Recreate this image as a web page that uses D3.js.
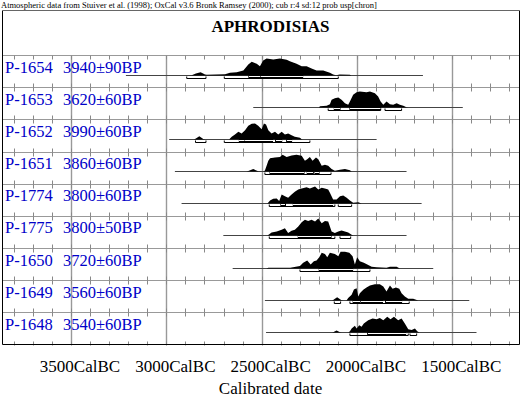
<!DOCTYPE html>
<html>
<head>
<meta charset="utf-8">
<script src="https://cdn.jsdelivr.net/npm/d3@7"></script>
<style>
  body { margin: 0; background: #fff; }
  svg { display: block; }
  svg text { font-family: "Liberation Serif", "Times New Roman", Times, "DejaVu Serif", serif; }
</style>
</head>
<body>
<div id="wrapper"></div>
<script>
// ---- data ----
const header = "Atmospheric data from Stuiver et al. (1998); OxCal v3.6 Bronk Ramsey (2000); cub r:4 sd:12 prob usp[chron]";
const title = "APHRODISIAS";
const labCodes = ["P-1654", "P-1653", "P-1652", "P-1651", "P-1774", "P-1775", "P-1650", "P-1649", "P-1648"];
const bpDates = ["3940±90BP", "3620±60BP", "3990±60BP", "3860±60BP", "3800±60BP", "3800±50BP", "3720±60BP", "3560±60BP", "3540±60BP"];

// extent of the calibration line under each distribution (cal BC)
const spans = [[3212, 1654], [2544, 1445], [2985, 1897], [2955, 1740], [2920, 1661],
               [2701, 1740], [2652, 1600], [2483, 1411], [2477, 1373]];

// relative probability [cal BC, p]
const dists = [
  [[2900,0],[2867,0.02],[2845,0.12],[2820,0.19],[2797,0.06],[2788,0.05],[2740,0.06],[2692,0.08],[2666,0.16],[2631,0.19],[2596,0.29],[2570,0.65],[2552,0.81],[2526,0.69],[2509,0.55],[2492,0.88],[2474,1],[2439,0.94],[2404,1],[2369,0.92],[2352,0.84],[2317,0.69],[2290,0.55],[2264,0.55],[2238,0.41],[2212,0.29],[2177,0.29],[2142,0.16],[2125,0.06],[2110,0.02],[2090,0.06],[2037,0.05],[2030,0]],
  [[2200,0],[2194,0.08],[2159,0.1],[2142,0.19],[2133,0.45],[2116,0.55],[2098,0.59],[2081,0.45],[2063,0.25],[2046,0.16],[2037,0.35],[2020,0.75],[2002,0.9],[1985,0.94],[1950,0.9],[1932,0.94],[1906,0.84],[1889,0.65],[1876,0.35],[1862,0.16],[1845,0.35],[1827,0.19],[1810,0.16],[1792,0.25],[1775,0.16],[1757,0.1],[1740,0.02],[1730,0]],
  [[2855,0],[2845,0.06],[2827,0.19],[2806,0.03],[2795,0],[2670,0],[2666,0.06],[2657,0.16],[2640,0.29],[2622,0.45],[2605,0.35],[2587,0.55],[2570,0.81],[2552,0.92],[2535,0.94],[2518,0.81],[2500,0.61],[2488,0.94],[2477,0.88],[2465,0.55],[2448,0.35],[2430,0.45],[2413,0.29],[2395,0.45],[2378,0.29],[2361,0.35],[2343,0.25],[2326,0.16],[2299,0.1],[2290,0.02],[2285,0]],
  [[2580,0],[2570,0.03],[2544,0.14],[2518,0.02],[2500,0],[2490,0],[2483,0.06],[2474,0.34],[2465,0.63],[2456,0.78],[2430,0.82],[2404,0.86],[2390,0.98],[2369,0.86],[2343,0.94],[2317,0.98],[2290,0.92],[2273,0.63],[2261,0.72],[2247,0.86],[2233,0.63],[2215,0.82],[2203,0.72],[2185,0.34],[2168,0.39],[2151,0.34],[2133,0.14],[2116,0.04],[2089,0.1],[2063,0.14],[2037,0.08],[2028,0]],
  [[2470,0],[2465,0.06],[2456,0.18],[2439,0.28],[2421,0.29],[2408,0.14],[2395,0.53],[2378,0.43],[2361,0.34],[2343,0.53],[2326,0.69],[2308,0.82],[2290,0.88],[2264,0.96],[2247,0.88],[2220,1],[2203,0.82],[2185,0.92],[2168,0.88],[2151,0.82],[2142,0.63],[2125,0.24],[2107,0.24],[2089,0.43],[2072,0.47],[2054,0.34],[2037,0.18],[2020,0.04],[1993,0.08],[1976,0]],
  [[2470,0],[2460,0.08],[2448,0.18],[2421,0.24],[2395,0.34],[2378,0.43],[2361,0.14],[2343,0.28],[2326,0.34],[2308,0.53],[2290,0.78],[2273,0.92],[2256,0.86],[2238,0.92],[2220,0.82],[2203,1],[2185,0.72],[2168,0.86],[2151,0.82],[2133,0.24],[2116,0.14],[2098,0.24],[2081,0.29],[2063,0.24],[2046,0.18],[2028,0.04],[2020,0]],
  [[2475,0],[2465,0.04],[2350,0.04],[2299,0.14],[2282,0.34],[2261,0.47],[2243,0.24],[2226,0.43],[2212,0.47],[2198,0.66],[2185,0.92],[2168,0.86],[2156,0.66],[2142,0.92],[2116,0.86],[2098,0.72],[2086,0.98],[2063,0.98],[2040,0.92],[2023,0.72],[2011,0.24],[1999,0.66],[1985,0.43],[1964,0.34],[1946,0.24],[1923,0.1],[1897,0.08],[1845,0.04],[1827,0.1],[1792,0.1],[1775,0]],
  [[2130,0],[2125,0.03],[2104,0.19],[2081,0.02],[2070,0],[2055,0],[2046,0.14],[2028,0.34],[2016,0.65],[2002,0.72],[1993,0.24],[1985,0.43],[1967,0.63],[1950,0.76],[1932,0.88],[1906,0.96],[1880,0.96],[1862,0.82],[1845,0.53],[1827,0.88],[1813,0.69],[1796,0.76],[1778,0.69],[1766,0.43],[1749,0.24],[1731,0.1],[1705,0.1],[1679,0]],
  [[2130,0],[2125,0.02],[2107,0.12],[2089,0.02],[2080,0],[2045,0],[2037,0.08],[2028,0.24],[2011,0.39],[2002,0.24],[1988,0.43],[1976,0.34],[1964,0.53],[1941,0.72],[1918,0.82],[1897,0.78],[1880,0.86],[1862,0.72],[1841,0.92],[1824,0.78],[1806,0.92],[1784,0.72],[1766,0.82],[1749,0.53],[1731,0.19],[1713,0.14],[1696,0.24],[1684,0.08],[1673,0]]
];

// 68.2% and 95.4% ranges (cal BC)
const sigma1 = [
  [[2567,2504],[2504,2285]],
  [[2119,2089],[2037,1876]],
  [[2617,2587],[2587,2443],[2427,2395],[2369,2343]],
  [[2456,2278],[2261,2229],[2220,2199]],
  [[2399,2375],[2334,2128]],
  [[2308,2136]],
  [[2198,2023]],
  [[2020,1985],[1979,1866],[1850,1766]],
  [[1944,1745]]
];
const sigma2 = [
  [[2893,2792],[2696,2098]],
  [[2151,1876],[1853,1766]],
  [[2847,2792],[2696,2247]],
  [[2483,2136]],
  [[2460,2116],[2098,2028]],
  [[2460,2116],[2089,2033]],
  [[2299,1932]],
  [[2119,2086],[2037,1726]],
  [[2037,1731],[1722,1687]]
];

const majorTicks = [3500, 3000, 2500, 2000, 1500];
const minorTicks = [3800,3700,3600,3500,3400,3300,3200,3100,3000,2900,2800,2700,2600,2500,
                    2400,2300,2200,2100,2000,1900,1800,1700,1600,1500,1400,1300,1200];
const xTitle = "Calibrated date";

// ---- layout ----
const width = 522, height = 397;
const frame = { left: 2.5, right: 519.5, top: 10.5, plotTop: 55, bottom: 344.5 };
const serif = "\"Liberation Serif\", \"Times New Roman\", Times, \"DejaVu Serif\", serif";

const x = d3.scaleLinear().domain([3500, 1500]).range([71, 452.3]);
const row = d3.scaleBand().domain(labCodes).range([frame.plotTop, frame.bottom]);
const prob = d3.scaleLinear().domain([0, 1]).range([0, 17]);
const px = v => Math.round(v) + 0.5;

const svg = d3.select("#wrapper")
    .append("svg")
    .attr("width", width)
    .attr("height", height)
    .attr("font-family", serif);

svg.append("text")
    .attr("x", 1)
    .attr("y", 7.5)
    .attr("font-size", 8.5)
    .text(header);

svg.append("text")
    .attr("x", 270.5)
    .attr("y", 32)
    .attr("text-anchor", "middle")
    .attr("font-size", 17)
    .attr("font-weight", "bold")
    .text(title);

// row separators
svg.append("g")
    .selectAll("line")
    .data(labCodes)
    .join("line")
    .attr("x1", frame.left).attr("x2", frame.right)
    .attr("y1", d => px(row(d))).attr("y2", d => px(row(d)))
    .attr("stroke", "#999");

// major grid
svg.append("g")
    .selectAll("line")
    .data(majorTicks)
    .join("line")
    .attr("x1", d => px(x(d))).attr("x2", d => px(x(d)))
    .attr("y1", frame.plotTop).attr("y2", frame.bottom)
    .attr("stroke", "#999")
    .attr("stroke-width", 1.4);

// minor ticks at top and bottom of every row
const tickRows = svg.append("g")
    .selectAll("g")
    .data(labCodes)
    .join("g");
tickRows.selectAll("line.top")
    .data(minorTicks)
    .join("line")
    .attr("class", "top")
    .attr("x1", d => px(x(d))).attr("x2", d => px(x(d)))
    .attr("y1", function() { return px(row(d3.select(this.parentNode).datum())); })
    .attr("y2", function() { return px(row(d3.select(this.parentNode).datum())) + 4; })
    .attr("stroke", "#888");
tickRows.selectAll("line.bot")
    .data(minorTicks)
    .join("line")
    .attr("class", "bot")
    .attr("x1", d => px(x(d))).attr("x2", d => px(x(d)))
    .attr("y1", function() { const c = d3.select(this.parentNode).datum(); return px(row(c) + row.bandwidth()); })
    .attr("y2", function() { const c = d3.select(this.parentNode).datum(); return px(row(c) + row.bandwidth()) - 4; })
    .attr("stroke", "#888");

// distributions
const rows = svg.append("g")
    .selectAll("g")
    .data(labCodes.map((code, i) => ({
        code, bp: bpDates[i], span: spans[i], dist: dists[i], s1: sigma1[i], s2: sigma2[i]
    })))
    .join("g")
    .attr("transform", d => `translate(0,${px(row(d.code) + 19.5)})`);

rows.append("line")
    .attr("x1", d => x(d.span[0])).attr("x2", d => x(d.span[1]))
    .attr("y1", 0).attr("y2", 0)
    .attr("stroke", "#444");

const area = d3.area()
    .x(d => x(d[0]))
    .y0(0)
    .y1(d => -prob(d[1]));

rows.append("path")
    .attr("d", d => area(d.dist))
    .attr("fill", "#000");

rows.selectAll("rect.s1")
    .data(d => d.s1)
    .join("rect")
    .attr("class", "s1")
    .attr("x", d => x(d[0]))
    .attr("width", d => x(d[1]) - x(d[0]))
    .attr("y", 0)
    .attr("height", 2)
    .attr("fill", "#fff")
    .attr("stroke", "#000");

rows.selectAll("path.s2")
    .data(d => d.s2)
    .join("path")
    .attr("class", "s2")
    .attr("d", d => `M${x(d[0])},1 V3 H${x(d[1])} V1`)
    .attr("fill", "none")
    .attr("stroke", "#000");

// row labels
const labels = svg.append("g")
    .selectAll("g")
    .data(labCodes.map((code, i) => ({ code, bp: bpDates[i] })))
    .join("g")
    .attr("transform", d => `translate(0,${row(d.code) + 17.5})`)
    .attr("font-size", 16.5)
    .attr("fill", "#0000c8");
labels.append("text").attr("x", 5).text(d => d.code);
labels.append("text").attr("x", 63).text(d => d.bp);

// frame
svg.append("path")
    .attr("d", `M${frame.left},${frame.top} V${frame.bottom} H${frame.right} V${frame.top}`)
    .attr("fill", "none")
    .attr("stroke", "#000");
svg.append("line")
    .attr("x1", frame.left).attr("x2", frame.right)
    .attr("y1", frame.top).attr("y2", frame.top)
    .attr("stroke", "#666");

// bottom axis labels
const axis = d3.axisBottom(x)
    .tickValues(majorTicks)
    .tickSize(0)
    .tickPadding(15)
    .tickFormat(d => d + "CalBC");
const axisG = svg.append("g")
    .attr("transform", `translate(8.5,${frame.bottom})`)
    .call(axis)
    .attr("font-family", serif)
    .attr("font-size", 17);
axisG.select(".domain").remove();
axisG.selectAll("text").attr("fill", "#000");

svg.append("text")
    .attr("x", 270.5)
    .attr("y", 393.5)
    .attr("text-anchor", "middle")
    .attr("font-size", 17)
    .text(xTitle);
</script>
</body>
</html>
